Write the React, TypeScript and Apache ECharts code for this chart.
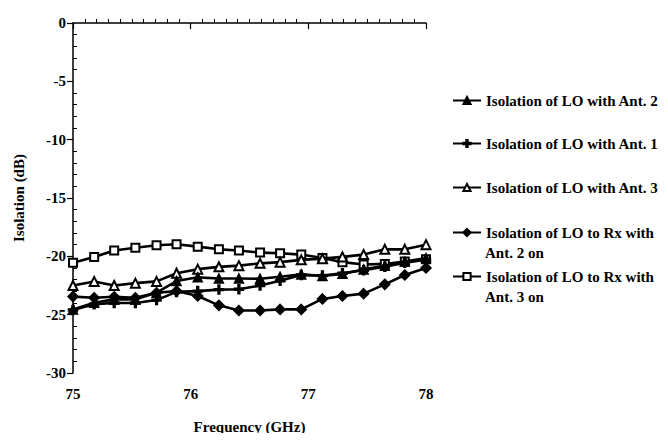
import React, { useEffect, useRef } from "react";
import * as echarts from "echarts";

const freq = [75, 75.18, 75.35, 75.53, 75.71, 75.88, 76.06, 76.24, 76.41, 76.59, 76.76, 76.94, 77.12, 77.29, 77.47, 77.65, 77.82, 78];

const loAnt2 = [-24.55, -23.98, -23.69, -23.69, -23.12, -22.12, -21.8, -21.9, -21.9, -21.92, -21.75, -21.55, -21.69, -21.5, -21.12, -20.8, -20.45, -20.15];
const loAnt1 = [-24.6, -24.1, -24.0, -24.0, -23.75, -23.05, -22.98, -22.85, -22.82, -22.5, -22.1, -21.6, -21.65, -21.45, -21.2, -20.9, -20.55, -20.3];
const loAnt3 = [-22.5, -22.15, -22.5, -22.3, -22.15, -21.45, -21.1, -20.9, -20.8, -20.6, -20.5, -20.3, -20.2, -20.05, -19.85, -19.4, -19.4, -19.0];
const rxAnt2 = [-23.45, -23.55, -23.46, -23.55, -23.12, -22.98, -23.4, -24.2, -24.64, -24.64, -24.55, -24.55, -23.65, -23.4, -23.2, -22.4, -21.6, -21.0];
const rxAnt3 = [-20.54, -20.06, -19.5, -19.26, -19.05, -18.97, -19.17, -19.4, -19.5, -19.68, -19.74, -19.85, -20.15, -20.5, -20.7, -20.65, -20.45, -20.25];

const seriesNames = [
  "Isolation of LO with Ant. 2",
  "Isolation of LO with Ant. 1",
  "Isolation of LO with Ant. 3",
  "Isolation of LO to Rx with Ant. 2 on",
  "Isolation of LO to Rx with Ant. 3 on",
];
const legendFirstLines = [
  "Isolation of LO with Ant. 2",
  "Isolation of LO with Ant. 1",
  "Isolation of LO with Ant. 3",
  "Isolation of LO to Rx with",
  "Isolation of LO to Rx with",
];
const legendSecondLines = ["", "", "", "Ant. 2 on", "Ant. 3 on"];
const yTicks = { min: -30, max: 0, interval: 5 };
const xTicks = { min: 75, max: 78, interval: 1 };

const FONT = "'Liberation Serif', 'Times New Roman', serif";
const PLUS = "path://M4,0 L6,0 L6,4 L10,4 L10,6 L6,6 L6,10 L4,10 L4,6 L0,6 L0,4 L4,4 Z";

export default function App() {
  const ref = useRef<HTMLDivElement>(null);
  useEffect(() => {
    if (!ref.current) return;
    const chart = echarts.init(ref.current, null, { renderer: "svg" });
    const allData = [loAnt2, loAnt1, loAnt3, rxAnt2, rxAnt3];
    const symbols = ["triangle", PLUS, "emptyTriangle", "diamond", "emptyRect"];
    const sizes = [9, 9, 9, 10, 8];
    const legendTops = [93, 136, 180, 225, 269];
    const textStyle = { fontFamily: FONT, fontWeight: "bold", fontSize: 15, color: "#000" };

    const series = allData.map((d, i) => ({
      name: seriesNames[i],
      type: "line",
      xAxisIndex: 0,
      yAxisIndex: 0,
      data: d.map((v, j) => [freq[j], v]),
      symbol: symbols[i],
      symbolSize: sizes[i],
      showAllSymbol: true,
      lineStyle: { color: "#000", width: 2.6 },
      itemStyle: { color: "#000", borderColor: "#000", borderWidth: 1.5 },
      emphasis: { disabled: true },
      z: 5 - i,
    }));

    const legends = seriesNames.map((n, i) => ({
      data: [n],
      orient: "vertical",
      left: 452,
      top: legendTops[i],
      padding: 0,
      itemWidth: 28,
      itemHeight: 9,
      selectedMode: false,
      formatter: () => legendFirstLines[i],
      textStyle,
    }));

    const graphics = legendSecondLines
      .map((t, i) => ({ t, i }))
      .filter((o) => o.t)
      .map((o) => ({
        type: "text",
        left: 485,
        top: legendTops[o.i] + 20,
        style: { text: o.t, font: `bold 15px ${FONT}`, fill: "#000" },
      }));

    chart.setOption({
      animation: false,
      backgroundColor: "#fff",
      grid: { left: 73, top: 23, width: 353, height: 350, containLabel: false },
      legend: legends,
      graphic: graphics,
      xAxis: [
        {
          type: "value",
          ...xTicks,
          name: "Frequency (GHz)",
          nameLocation: "middle",
          nameGap: 46,
          nameTextStyle: textStyle,
          axisLine: { lineStyle: { color: "#000", width: 1.5 } },
          axisTick: { show: true, length: 6, lineStyle: { color: "#000", width: 1.2 } },
          axisLabel: { ...textStyle, margin: 13 },
          splitLine: { show: false },
        },
        {
          type: "value",
          ...xTicks,
          position: "bottom",
          axisLine: { show: false },
          axisTick: { show: false, inside: true },
          minorTick: { show: true, splitNumber: 10, length: 4, lineStyle: { color: "#000", width: 1 } },
          axisLabel: { show: false },
          splitLine: { show: false },
        },
      ],
      yAxis: [
        {
          type: "value",
          ...yTicks,
          name: "Isolation (dB)",
          nameLocation: "middle",
          nameGap: 47,
          nameRotate: 90,
          nameTextStyle: textStyle,
          axisLine: { lineStyle: { color: "#000", width: 1.5 } },
          axisTick: { show: true, length: 6, lineStyle: { color: "#000", width: 1.2 } },
          axisLabel: { ...textStyle, margin: 7 },
          splitLine: { show: false },
        },
        {
          type: "value",
          ...yTicks,
          position: "left",
          axisLine: { show: false },
          axisTick: { show: false, inside: true },
          minorTick: { show: true, splitNumber: 5, length: 4, lineStyle: { color: "#000", width: 1 } },
          axisLabel: { show: false },
          splitLine: { show: false },
        },
      ],
      series,
    });
    return () => chart.dispose();
  }, []);
  return <div ref={ref} style={{ width: 668, height: 441, margin: -8 }} />;
}
